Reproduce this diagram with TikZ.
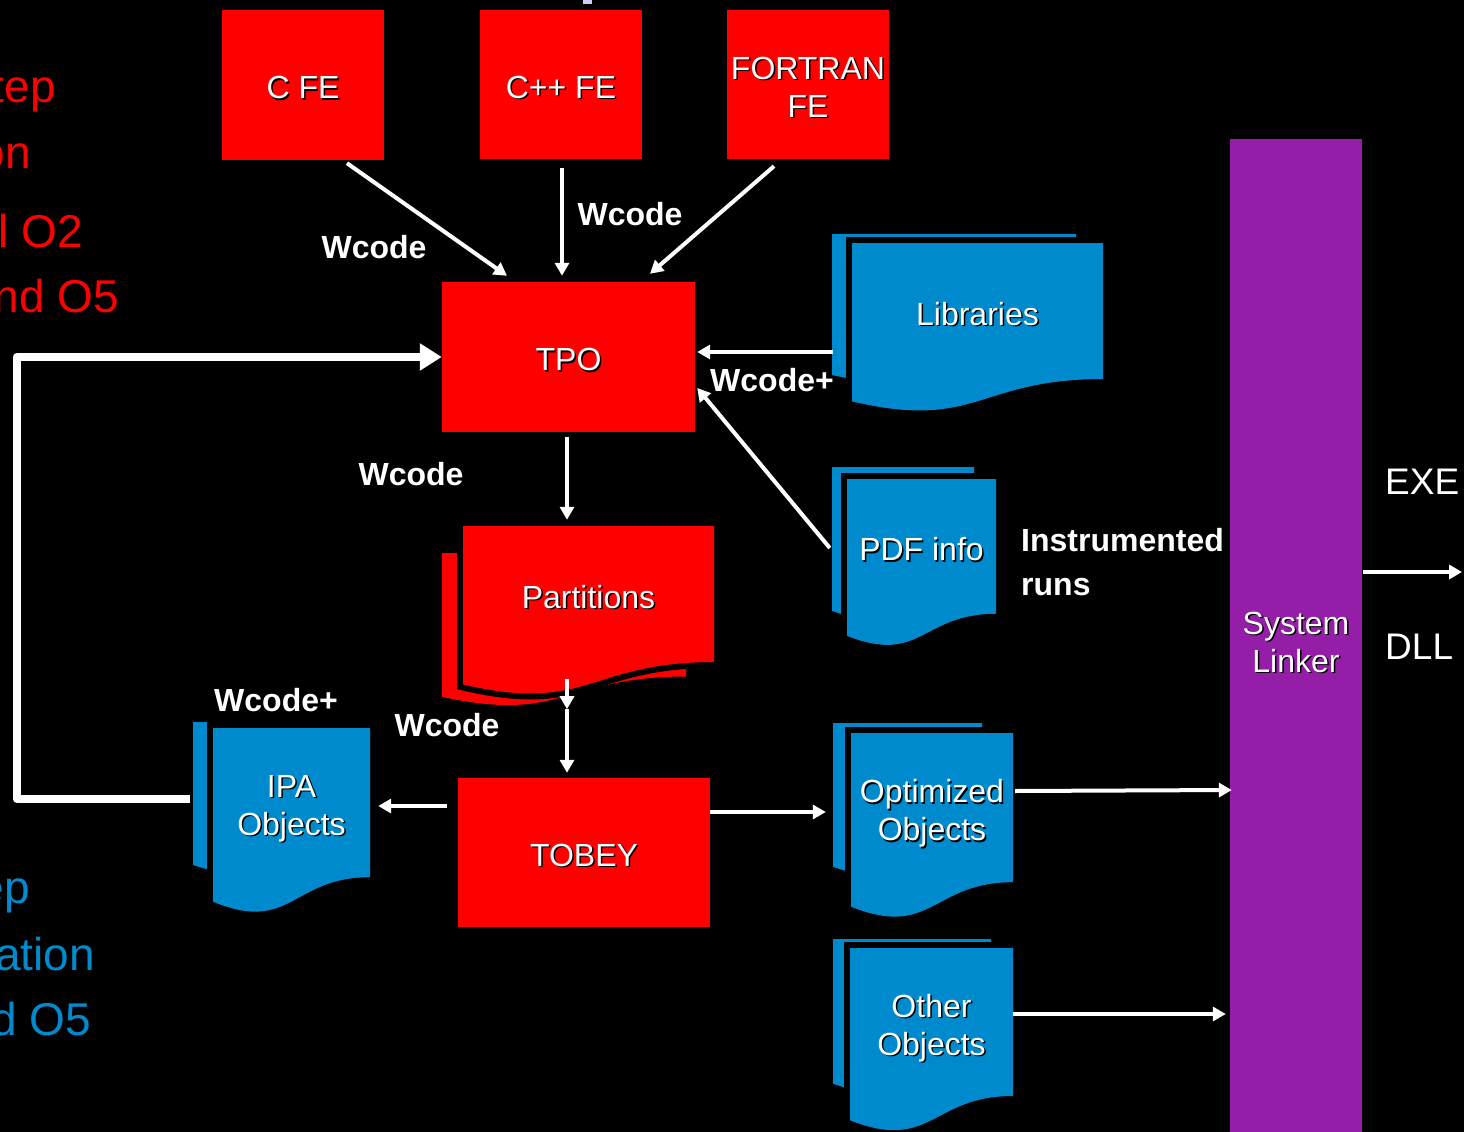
\documentclass[tikz,border=0pt]{standalone}
\usepackage{fontspec}
\setmainfont{Liberation Sans}
\usetikzlibrary{arrows.meta,calc}
\definecolor{docblue}{RGB}{0,138,206}
\definecolor{linkpurple}{RGB}{148,30,168}
\definecolor{speck}{RGB}{204,204,250}
% white text with a small black drop shadow, set slightly low in its line
\newcommand\shd[1]{\raisebox{-2.5pt}[\height][0pt]{\rlap{\kern1.5pt\raisebox{-1.5pt}[0pt][0pt]{\color{black}#1}}#1}}
% document page with a wavy bottom edge: x0, y0, width, height, path options
\newcommand\docpage[5]{\path[#5] (#1,#2) -- ({#1+#3},#2) -- ({#1+#3},{#2+0.802*#4}) .. controls ({#1+0.5*#3},{#2+0.802*#4}) and ({#1+0.5*#3},{#2+1.1075*#4}) .. (#1,{#2+0.934*#4}) -- cycle;}

\begin{document}
\begin{tikzpicture}[x=1pt,y=-1pt,
  every node/.style={inner sep=0pt, text=white},
  boxtxt/.style={font=\fontsize{32}{38}\selectfont, align=center, text depth=0pt},
  redbox/.style={boxtxt, fill=red},
  lbl/.style={font=\fontsize{32}{40.5}\selectfont\bfseries},
  sidetxt/.style={font=\fontsize{46}{55}\selectfont, anchor=base east},
  outtxt/.style={font=\fontsize{37}{44}\selectfont, anchor=west, text depth=0pt},
  arr/.style={draw=white, line width=4pt, -{Triangle[width=14pt,length=13pt]}},
  looparr/.style={draw=white, line width=8.5pt, line join=round, -{Triangle[width=26pt,length=22pt]}},
]
\useasboundingbox (0,0) rectangle (1464,1132);
\clip (0,0) rectangle (1464,1132);
\fill[black] (0,0) rectangle (1464,1132);
\fill[speck] (583,0) rectangle (592,4);

% side captions
\node[sidetxt, text=red] (s1) at (56,102) {tep};
\node[sidetxt, text=red] (s2) at (31,168) {on};
\node[sidetxt, text=red] (s3) at (83,247) {l O2};
\node[sidetxt, text=red] (s4) at (119,312) {nd O5};
\node[sidetxt, text=docblue] (s5) at (30,903) {ep};
\node[sidetxt, text=docblue] (s6) at (95,970) {ation};
\node[sidetxt, text=docblue] (s7) at (91,1035) {d O5};

% front ends and compiler stages
\node[redbox, minimum width=162pt, minimum height=150pt] (cfe) at (303,85) {\shd{C FE}};
\node[redbox, minimum width=162pt, minimum height=149pt] (cppfe) at (561,84.5) {\shd{C++ FE}};
\node[redbox, minimum width=162pt, minimum height=149pt] (ffe) at (808,84.5) {\shd{FORTRAN}\\\shd{FE}};
\node[redbox, minimum width=253pt, minimum height=150pt] (tpo) at (568.5,357) {\shd{TPO}};
\node[redbox, minimum width=252pt, minimum height=149pt] (tobey) at (584,852.5) {\shd{TOBEY}};

% stacked document shapes
\docpage{832}{234}{244}{151}{fill=docblue}
\docpage{852}{243}{251}{169.6}{fill=docblue, preaction={draw=black, line width=12pt}}
\docpage{832}{467}{142}{154}{fill=docblue}
\docpage{847}{479}{149}{168}{fill=docblue, preaction={draw=black, line width=12pt}}
\docpage{442}{553}{244}{154}{fill=red}
\docpage{463}{526}{251}{169.6}{fill=red, preaction={draw=black, line width=12pt}}
\docpage{193}{722}{153}{153}{fill=docblue}
\docpage{213}{728}{157}{186}{fill=docblue, preaction={draw=black, line width=12pt}}
\docpage{833}{723}{149}{154}{fill=docblue}
\docpage{851}{733}{162}{186}{fill=docblue, preaction={draw=black, line width=12pt}}
\docpage{833}{939}{158}{155}{fill=docblue}
\docpage{850}{948}{163}{184.5}{fill=docblue, preaction={draw=black, line width=12pt}}

\node[boxtxt, minimum width=251pt, minimum height=136pt] (lib) at (977.5,311) {\shd{Libraries}};
\node[boxtxt, minimum width=149pt, minimum height=135pt] (pdf) at (921.5,546.5) {\shd{PDF info}};
\node[boxtxt, minimum width=251pt, minimum height=136pt] (part) at (588.5,594) {\shd{Partitions}};
\node[boxtxt, minimum width=157pt, minimum height=149pt] (ipa) at (291.5,802.5) {\shd{IPA}\\\shd{Objects}};
\node[boxtxt, minimum width=162pt, minimum height=149pt] (opt) at (932,807.5) {\shd{Optimized}\\\shd{Objects}};
\node[boxtxt, minimum width=163pt, minimum height=148pt] (oth) at (931.5,1022) {\shd{Other}\\\shd{Objects}};

% system linker bar
\node[boxtxt, fill=linkpurple, minimum width=132pt, minimum height=1001pt] (linker) at (1296,639.5) {\shd{System}\\\shd{Linker}};

% labels
\node[lbl] (w1) at (374,247) {Wcode};
\node[lbl] (w2) at (630,214) {Wcode};
\node[lbl] (w3) at (411,474) {Wcode};
\node[lbl] (w4) at (447,725) {Wcode};
\node[lbl] (w5) at (772,380) {Wcode+};
\node[lbl] (w6) at (276,700) {Wcode+};
\node[lbl, font=\fontsize{32}{44.5}\selectfont\bfseries, anchor=west, align=left] (instr) at (1021,562) {Instrumented\\runs};
\node[outtxt] (exe) at (1385,482) {EXE};
\node[outtxt] (dll) at (1385,647) {DLL};
\coordinate (exeout) at (1462,572);

% connectors
\draw[arr] ($(cfe.south)+(44,3)$) -- ($(tpo.north)+(-61.5,-6)$);
\draw[arr] ($(cppfe.south)+(1,8.5)$) -- ($(tpo.north)+(-6.5,-6)$);
\draw[arr] ($(ffe.south)+(-34,7)$) -- ($(tpo.north)+(81.5,-8)$);
\draw[arr] ($(lib.west)+(-19,41)$) -- ($(tpo.east)+(2,-5)$);
\draw[arr] ($(pdf.west)+(-17,1.5)$) -- ($(tpo.east)+(2,31)$);
\draw[arr] ($(tpo.south)+(-1.5,5)$) -- ($(part.north)+(-21.5,-6)$);
\draw[arr] ($(part.south)+(-21.5,17)$) -- ($(part.south)+(-21.5,47)$);
\draw[arr] ($(part.south)+(-21.5,47)$) -- ($(tobey.north)+(-17,-5)$);
\draw[arr] ($(tobey.west)+(-11,-46.5)$) -- ($(ipa.east)+(8,3.5)$);
\draw[arr] ($(tobey.east)+(0,-40.5)$) -- ($(opt.west)+(-25,4.5)$);
\draw[arr] ($(opt.east)+(2,-16.5)$) -- ($(linker.west)+(2,150.5)$);
\draw[arr] ($(oth.east)+(0,-8)$) -- ($(linker.west)+(-4,374.5)$);
\draw[arr] ($(linker.east)+(1,-67.5)$) -- (exeout);

% feedback loop from IPA objects back into TPO
\coordinate (ipaout) at ($(ipa.west)+(-23,-3.5)$);
\coordinate (loopx) at (17,578);
\draw[looparr] (ipaout) -- (ipaout -| loopx) -- (loopx |- tpo.west) -- (tpo.west);
\end{tikzpicture}
\end{document}
